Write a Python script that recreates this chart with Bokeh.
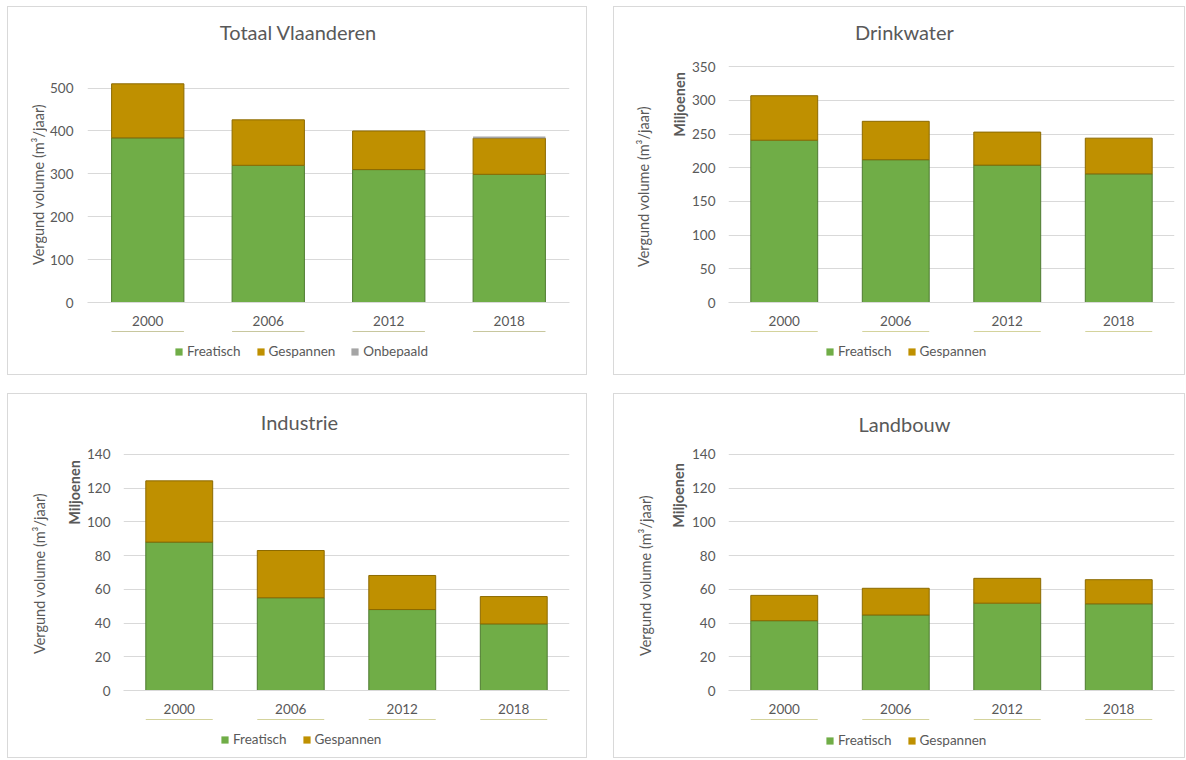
import math
from bokeh.plotting import figure
from bokeh.models import (ColumnDataSource, FactorRange, Range1d, FixedTicker,
                          Label, Legend, LegendItem, Spacer)
from bokeh.layouts import row, column
from bokeh.embed import file_html
from bokeh.resources import INLINE

# ---------------- data ----------------
years = ["2000", "2006", "2012", "2018"]

totaal_freatisch = [384, 320, 310, 299]
totaal_gespannen = [126, 106, 90, 84]
totaal_onbepaald = [0, 0, 0, 4]

drink_freatisch = [241, 212, 204, 191]
drink_gespannen = [66, 57, 49, 53]

industrie_freatisch = [88, 55, 48, 39.5]
industrie_gespannen = [36.3, 28, 20.2, 16.2]

landbouw_freatisch = [41.4, 44.8, 51.8, 51.4]
landbouw_gespannen = [15.0, 15.8, 14.7, 14.3]

titles = ["Totaal Vlaanderen", "Drinkwater", "Industrie", "Landbouw"]
y_label = "Vergund volume (m³/jaar)"
unit_label = "Miljoenen"

yticks_totaal = [0, 100, 200, 300, 400, 500]
yticks_drink = [0, 50, 100, 150, 200, 250, 300, 350]
yticks_sector = [0, 20, 40, 60, 80, 100, 120, 140]

# ---------------- style ----------------
FONT = "Lato"
TEXT = "#595959"
GRID = "#D9D9D9"
BORDER = "1px solid #D9D9D9"
FILL = {"Freatisch": "#70AD47", "Gespannen": "#BF9000", "Onbepaald": "#A5A5A5"}
LINE = {"Freatisch": "#4E7A30", "Gespannen": "#8C6A00", "Onbepaald": None}


def bare_fig(w, h, styles, x_range=None, y_range=None):
    f = figure(width=w, height=h,
               x_range=x_range if x_range is not None else Range1d(0, w),
               y_range=y_range if y_range is not None else Range1d(0, h),
               x_axis_location=None, y_axis_location=None, min_border=0,
               output_backend="svg", toolbar_location=None, tools="", styles=styles)
    f.grid.visible = False
    f.outline_line_color = None
    f.background_fill_color = "white"
    f.border_fill_color = "white"
    return f


def label_fig(w, h, labels):
    f = bare_fig(w, h, {"border-left": BORDER, "border-top": BORDER, "border-bottom": BORDER})
    for text, x, y, bold in labels:
        f.add_layout(Label(x=x, y=y, text=text, angle=math.pi / 2,
                           text_align="center", text_baseline="middle",
                           text_font=FONT, text_font_size="14.5px",
                           text_font_style="bold" if bold else "normal",
                           text_color=TEXT))
    return f


def legend_fig(w, h, src, names, loc):
    # the stacked bars are repeated here only to feed the legend; the view range
    # lies below zero so the bars themselves stay out of sight
    f = bare_fig(w, h, {"border-right": BORDER, "border-bottom": BORDER},
                 x_range=FactorRange(factors=years), y_range=Range1d(-1000, -900))
    rends = f.vbar_stack(names, x="years", width=0.6, source=src,
                         fill_color=[FILL[n] for n in names],
                         line_color=None)
    legend = Legend(items=[LegendItem(label=n, renderers=[r]) for n, r in zip(names, rends)],
                    orientation="horizontal", location=loc,
                    glyph_width=9, glyph_height=9, label_standoff=4, spacing=15,
                    padding=0, margin=0, label_width=0, label_height=16,
                    border_line_color=None, background_fill_alpha=0,
                    label_text_font=FONT, label_text_font_size="13.5px",
                    label_text_color=TEXT)
    f.add_layout(legend)
    return f


def main_fig(title, src, names, yticks, y_end, w, h, left, right, bottom, ystand, tpos):
    p = figure(x_range=FactorRange(factors=years), y_range=Range1d(0, y_end),
               width=w, height=h, min_border_left=left, min_border_right=right,
               min_border_top=0, min_border_bottom=bottom,
               output_backend="svg", toolbar_location=None, tools="",
               styles={"border-top": BORDER, "border-right": BORDER})
    p.outline_line_color = None
    p.background_fill_color = "white"
    p.border_fill_color = "white"

    p.vbar_stack(names, x="years", width=0.6, source=src,
                 fill_color=[FILL[n] for n in names],
                 line_color=[LINE[n] for n in names], line_width=1)

    p.yaxis.ticker = FixedTicker(ticks=yticks)
    p.yaxis.axis_line_color = None
    p.yaxis.major_tick_line_color = None
    p.yaxis.minor_tick_line_color = None
    p.yaxis.major_label_standoff = ystand
    p.yaxis.major_label_text_font = FONT
    p.yaxis.major_label_text_font_size = "13.5px"
    p.yaxis.major_label_text_color = TEXT

    p.xaxis.axis_line_color = GRID
    p.xaxis.major_tick_line_color = None
    p.xaxis.minor_tick_line_color = None
    p.xaxis.major_label_standoff = 7
    p.xaxis.major_label_text_font = FONT
    p.xaxis.major_label_text_font_size = "13.5px"
    p.xaxis.major_label_text_color = TEXT

    p.xgrid.grid_line_color = None
    p.ygrid.grid_line_color = GRID

    tx, ty = tpos
    p.add_layout(Label(x=tx, y=ty, text=title, text_align="center", text_baseline="middle",
                       text_font=FONT, text_font_size="20px", text_color=TEXT))
    return p


def panel(title, series, yticks, y_end, g):
    names = list(series.keys())
    data = dict(years=years)
    data.update(series)
    src = ColumnDataSource(data)
    m = main_fig(title, src, names, yticks, y_end, g["wM"], g["hM"], g["left"],
                 g["right"], 30, g["ystand"], g["tpos"])
    b = legend_fig(g["wM"], g["hB"], src, names, g["legend"])
    lab = label_fig(g["wL"], g["hM"] + g["hB"], g["labels"])
    return row(lab, column(m, b))


P1 = panel(titles[0],
           {"Freatisch": totaal_freatisch, "Gespannen": totaal_gespannen,
            "Onbepaald": totaal_onbepaald},
           yticks_totaal, 688,
           dict(wL=40, wM=540, hM=325, hB=44, left=40, right=18, ystand=8,
                tpos=(1.75, 632), legend=(87, 16),
                labels=[(y_label, 30, 192, False)]))
P2 = panel(titles[1],
           {"Freatisch": drink_freatisch, "Gespannen": drink_gespannen},
           yticks_drink, 438,
           dict(wL=76, wM=496, hM=325, hB=44, left=38, right=11, ystand=7,
                tpos=(1.578, 402), legend=(97, 16),
                labels=[(y_label, 29, 190, False), (unit_label, 65, 272, True)]))
P3 = panel(titles[2],
           {"Freatisch": industrie_freatisch, "Gespannen": industrie_gespannen},
           yticks_sector, 175.5,
           dict(wL=77, wM=503, hM=326, hB=39, left=38, right=18, ystand=7,
                tpos=(1.578, 159), legend=(97, 11),
                labels=[(y_label, 31, 186, False), (unit_label, 66, 267, True)]))
P4 = panel(titles[3],
           {"Freatisch": landbouw_freatisch, "Gespannen": landbouw_gespannen},
           yticks_sector, 175.5,
           dict(wL=76, wM=496, hM=326, hB=39, left=38, right=11, ystand=7,
                tpos=(1.578, 158), legend=(97, 10),
                labels=[(y_label, 31, 184, False), (unit_label, 64, 264, True)]))

grid = column(row(P1, P2, spacing=26), row(P3, P4, spacing=26), spacing=18)
layout = column(Spacer(width=10, height=6), row(Spacer(width=7, height=10), grid))

open("out.html", "w").write(file_html(layout, INLINE))
